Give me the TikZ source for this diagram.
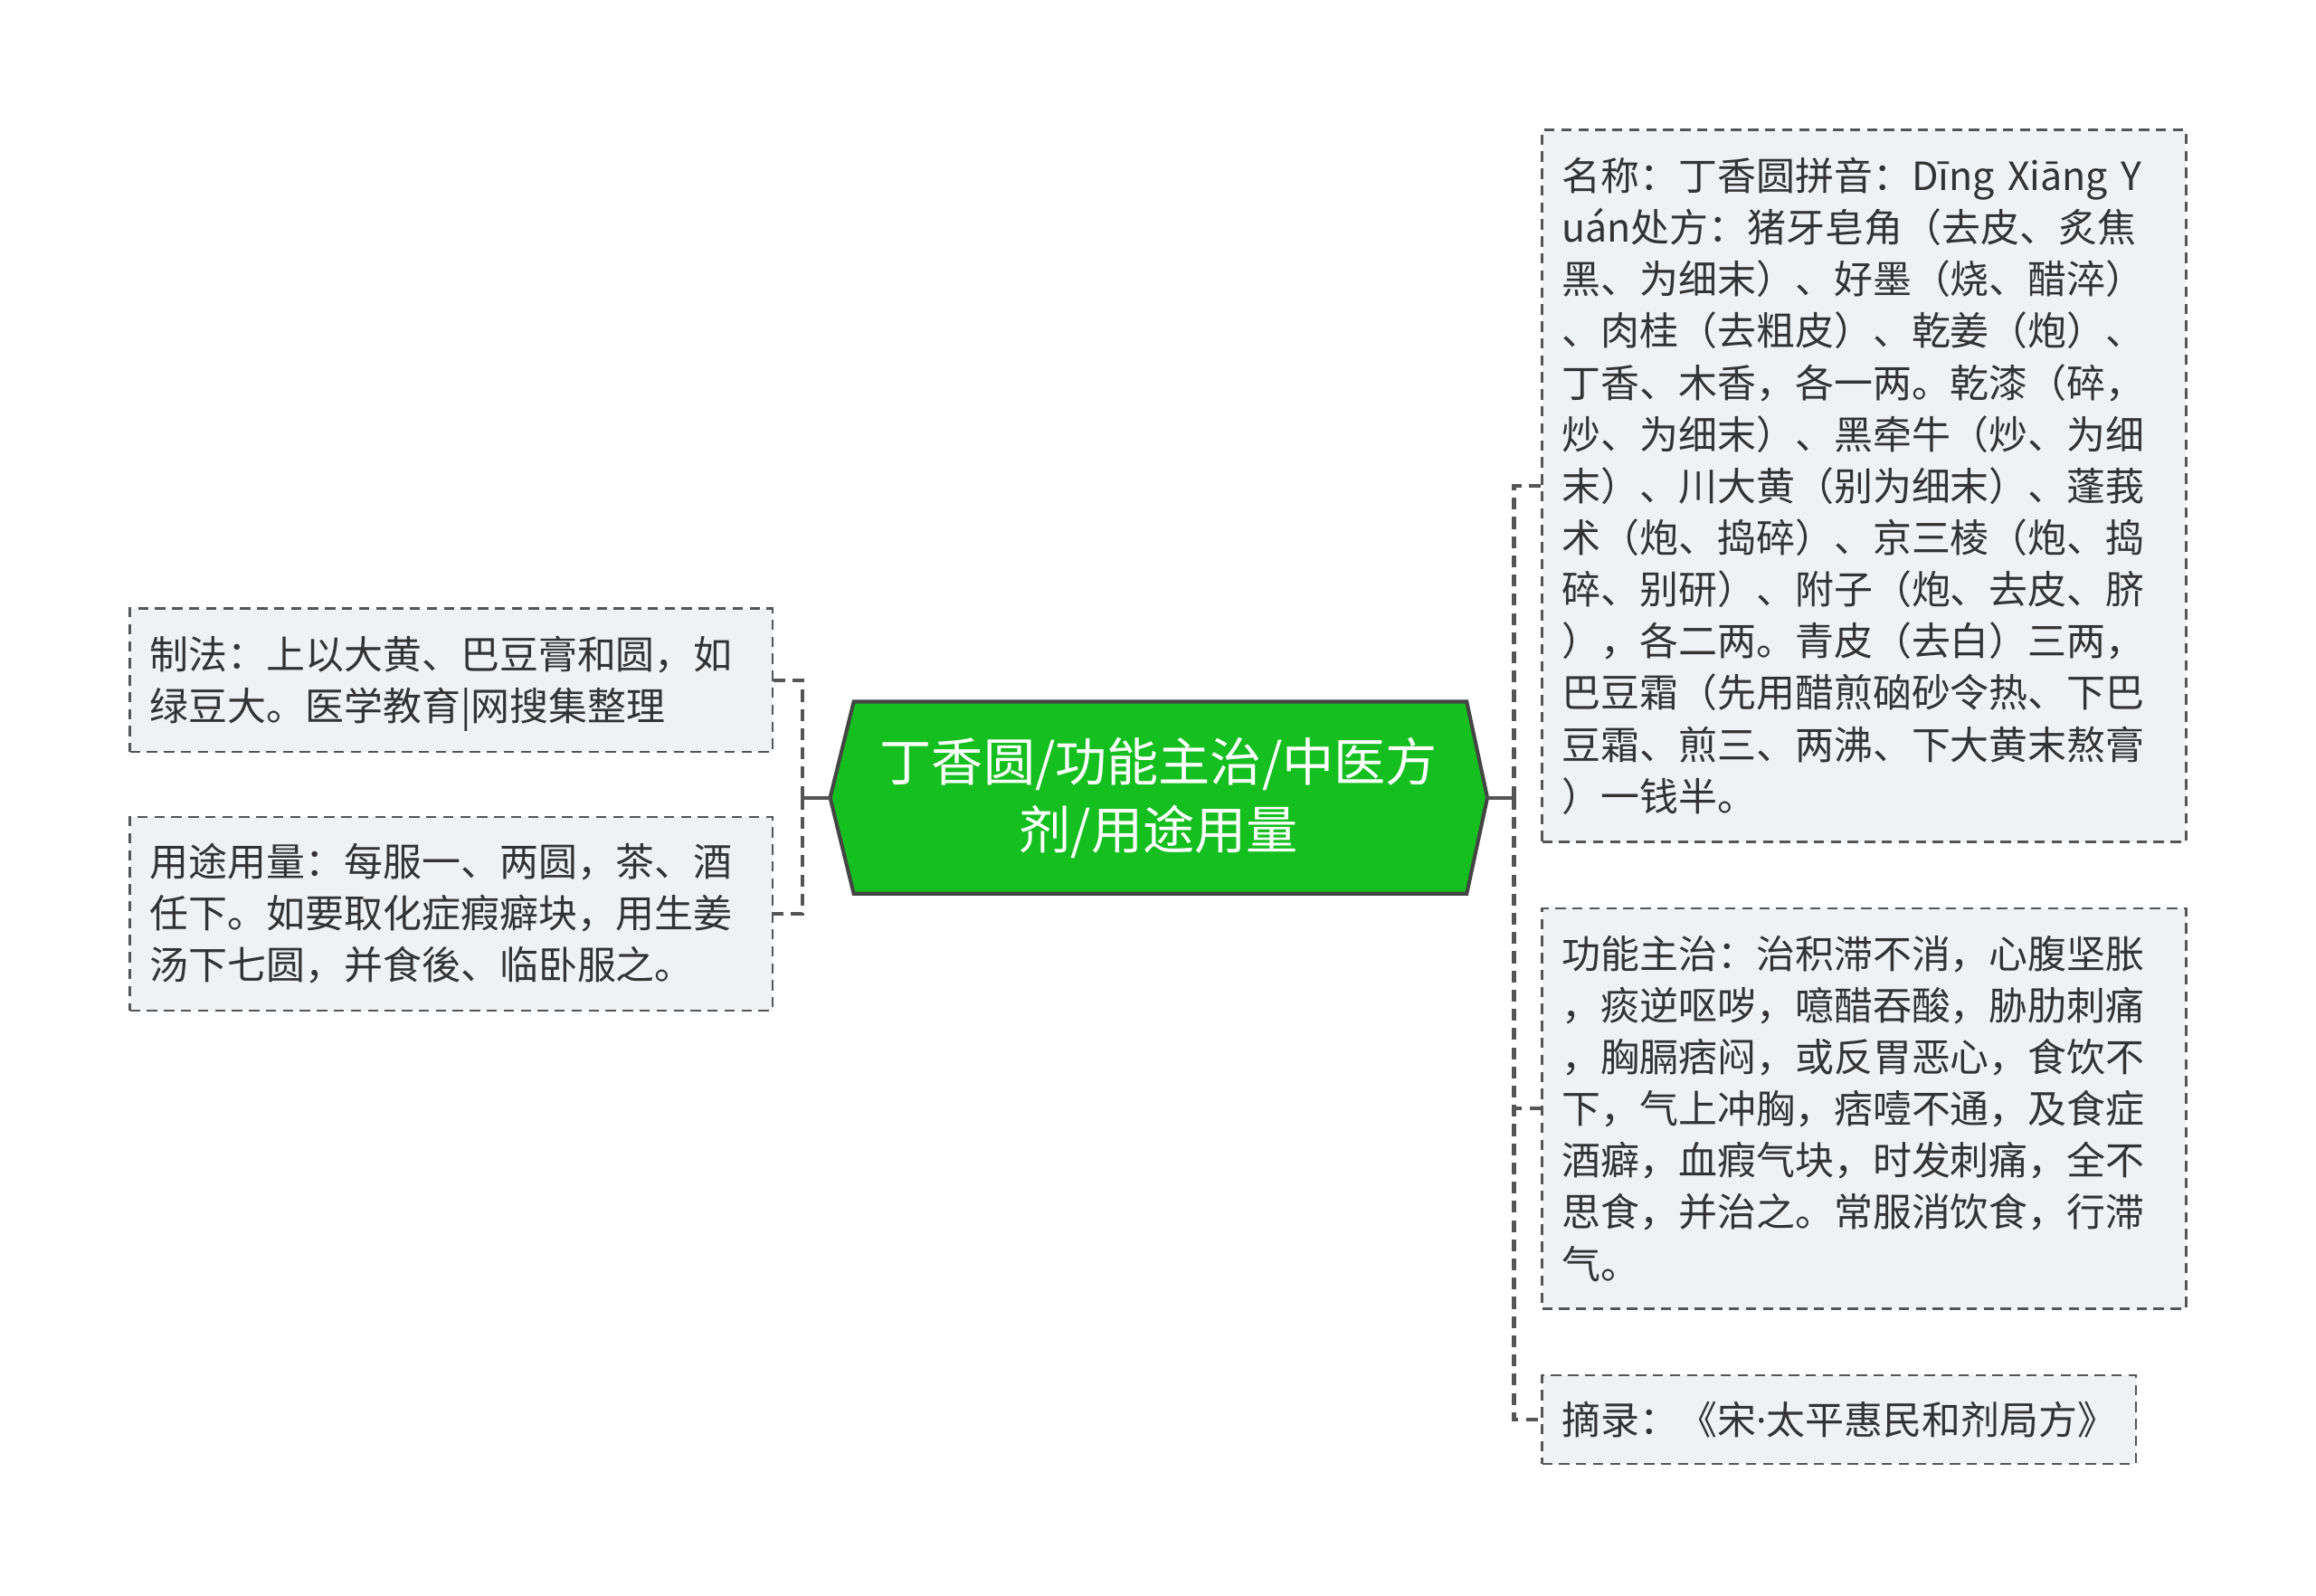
\documentclass[tikz,border=0pt]{standalone}
\usepackage{fontspec}
\setmainfont{Noto Sans CJK SC}
\newfontfamily\latinfont{Noto Sans}
\definecolor{boxfill}{HTML}{EFF2F5}
\definecolor{linegray}{HTML}{555555}
\definecolor{textgray}{HTML}{333333}
\definecolor{rootgreen}{HTML}{15BF20}
\definecolor{rootedge}{HTML}{444444}
\begin{document}
\begin{tikzpicture}[x=1pt,y=-1pt,
  leaf/.style={draw=linegray, fill=boxfill, dash pattern=on 7pt off 4.5pt,
    line width=1.5pt, text=textgray, font=\fontsize{26.3}{35}\selectfont,
    align=left, inner xsep=13.5pt, inner ysep=0pt},
  conn/.style={draw=linegray, line width=2.5pt, dash pattern=on 8pt off 5pt},
  solidconn/.style={draw=linegray, line width=2.5pt},
  roottext/.style={text=white, font=\fontsize{35}{46}\selectfont, align=center, inner sep=0pt},
  hexa/.style={fill=rootgreen, draw=rootedge, line width=2.5pt, line join=miter}]
\fill[white] (0,0) rectangle (1568,1080);
\useasboundingbox (0,0) rectangle (1568,1080);

% root hexagon
\coordinate (hl) at (562,540);
\coordinate (htl) at (578,475);
\coordinate (htr) at (993,475);
\coordinate (hr) at (1007,540);
\coordinate (hbr) at (993,605);
\coordinate (hbl) at (578,605);
\path[hexa] (hl) -- (htl) -- (htr) -- (hr) -- (hbr) -- (hbl) -- cycle;
\node[roottext] (root) at (784.5,540) {丁香圆/功能主治/中医方\\剂/用途用量};

% left leaves
\node[leaf, text width=408pt, minimum width=435pt, minimum height=97pt] (L1) at (305.5,460.5)
  {制法：上以大黄、巴豆膏和圆，如\\绿豆大。医学教育\smash{|}网搜集整理};
\node[leaf, text width=408pt, minimum width=435pt, minimum height=131pt] (L2) at (305.5,618.5)
  {用途用量：每服一、两圆，茶、酒\\任下。如要取化症瘕癖块，用生姜\\汤下七圆，并食後、临卧服之。};

% right leaves
\node[leaf, text width=409pt, minimum width=436pt, minimum height=482pt] (R1) at (1262,329)
  {名称：丁香圆拼音：Dīng Xiāng Y\\uán处方：猪牙皂角（去皮、炙焦\\黑、为细末）、好墨（烧、醋淬）\\、肉桂（去粗皮）、乾姜（炮）、\\丁香、木香，各一两。乾漆（碎，\\炒、为细末）、黑牵牛（炒、为细\\末）、川大黄（别为细末）、蓬莪\\术（炮、捣碎）、京三棱（炮、捣\\碎、别研）、附子（炮、去皮、脐\\），各二两。青皮（去白）三两，\\巴豆霜（先用醋煎硇砂令热、下巴\\豆霜、煎三、两沸、下大黄末熬膏\\）一钱半。};
\node[leaf, text width=409pt, minimum width=436pt, minimum height=271pt] (R2) at (1262,750.5)
  {功能主治：治积滞不消，心腹坚胀\\，痰逆呕哕，噫醋吞酸，胁肋刺痛\\，胸膈痞闷，或反胃恶心，食饮不\\下，气上冲胸，痞噎不通，及食症\\酒癖，血瘕气块，时发刺痛，全不\\思食，并治之。常服消饮食，行滞\\气。};
\node[leaf, text width=375pt, minimum width=402pt, minimum height=60pt] (R3) at (1245,961)
  {摘录：《宋{\latinfont ·}太平惠民和剂局方》};

% connectors
\coordinate (jl) at (543,540);
\coordinate (jr) at (1025,540);
\draw[solidconn] (hl) -- (jl);
\draw[solidconn] (hr) -- (jr);
\draw[conn] (jl) |- (L1.east);
\draw[conn] (jl) |- (L2.east);
\draw[conn] (jr) |- (R1.west);
\draw[conn] (jr) |- (R2.west);
\draw[conn] (jr) |- (R3.west);
\end{tikzpicture}
\end{document}
